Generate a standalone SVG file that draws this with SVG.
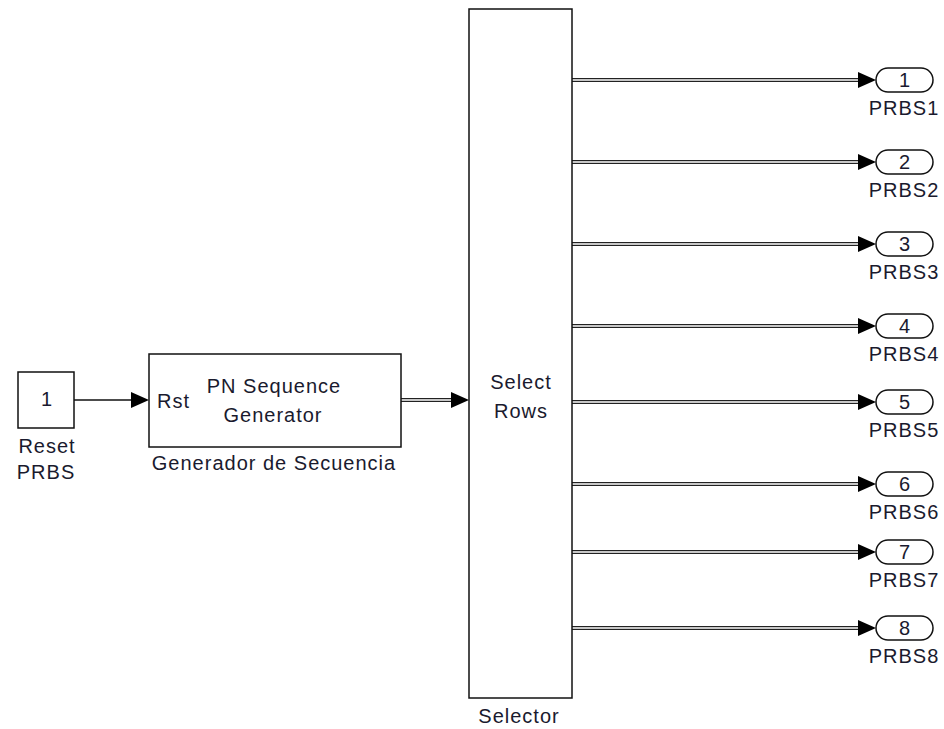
<svg xmlns="http://www.w3.org/2000/svg" width="944" height="729" viewBox="0 0 944 729">
  <style>
    .blk { fill: #fff; stroke: #111; stroke-width: 1.5; }
    .txt { font-family: "Liberation Sans", Arial, sans-serif; font-size: 20px; letter-spacing: 1px; fill: #1a1a2e; }
    .mid { text-anchor: middle; }
    .sig { fill: none; stroke: #111; stroke-width: 1.5; }
    .bus { fill: none; stroke: #222; stroke-width: 4.2; }
    .busin { fill: none; stroke: #fff; stroke-width: 1.4; }
    .head { fill: #000; }
  </style>
  <defs>
    <path id="arrow" class="head" d="M -18 -8 L 0 0 L -18 8 Z"/>
  </defs>
  <rect width="944" height="729" fill="#fff"/>

  <!-- connectors -->
  <g id="connectors">
    <line class="sig" x1="74" y1="400" x2="133" y2="400"/>
    <use href="#arrow" x="149" y="400"/>

    <line class="bus" x1="401" y1="400" x2="453" y2="400"/>
    <line class="busin" x1="401" y1="400" x2="453" y2="400"/>
    <use href="#arrow" x="469" y="400"/>

    <g id="outs">
      <line class="bus" x1="572" y1="80" x2="860" y2="80"/>
      <line class="busin" x1="572" y1="80" x2="860" y2="80"/>
      <use href="#arrow" x="876" y="80"/>
      <line class="bus" x1="572" y1="162" x2="860" y2="162"/>
      <line class="busin" x1="572" y1="162" x2="860" y2="162"/>
      <use href="#arrow" x="876" y="162"/>
      <line class="bus" x1="572" y1="244" x2="860" y2="244"/>
      <line class="busin" x1="572" y1="244" x2="860" y2="244"/>
      <use href="#arrow" x="876" y="244"/>
      <line class="bus" x1="572" y1="326" x2="860" y2="326"/>
      <line class="busin" x1="572" y1="326" x2="860" y2="326"/>
      <use href="#arrow" x="876" y="326"/>
      <line class="bus" x1="572" y1="402" x2="860" y2="402"/>
      <line class="busin" x1="572" y1="402" x2="860" y2="402"/>
      <use href="#arrow" x="876" y="402"/>
      <line class="bus" x1="572" y1="484" x2="860" y2="484"/>
      <line class="busin" x1="572" y1="484" x2="860" y2="484"/>
      <use href="#arrow" x="876" y="484"/>
      <line class="bus" x1="572" y1="552" x2="860" y2="552"/>
      <line class="busin" x1="572" y1="552" x2="860" y2="552"/>
      <use href="#arrow" x="876" y="552"/>
      <line class="bus" x1="572" y1="628" x2="860" y2="628"/>
      <line class="busin" x1="572" y1="628" x2="860" y2="628"/>
      <use href="#arrow" x="876" y="628"/>
    </g>
  </g>

  <!-- inport: Reset PRBS -->
  <g id="reset">
    <rect class="blk" x="18" y="372" width="56" height="56"/>
    <text class="txt mid" x="47" y="406">1</text>
    <text class="txt mid" x="47" y="453">Reset</text>
    <text class="txt mid" x="46" y="479">PRBS</text>
  </g>

  <!-- PN sequence generator -->
  <g id="pn">
    <rect class="blk" x="149" y="354" width="252" height="93"/>
    <text class="txt" x="157" y="408">Rst</text>
    <text class="txt mid" x="274" y="393">PN Sequence</text>
    <text class="txt mid" x="273" y="422">Generator</text>
    <text class="txt mid" x="274" y="470">Generador de Secuencia</text>
  </g>

  <!-- selector -->
  <g id="selector">
    <rect class="blk" x="469" y="9" width="103" height="689"/>
    <text class="txt mid" x="521" y="389">Select</text>
    <text class="txt mid" x="521" y="418">Rows</text>
    <text class="txt mid" x="519" y="723">Selector</text>
  </g>

  <!-- outports -->
  <g id="out1"><rect class="blk" x="876" y="68" width="57" height="24" rx="12"/><text class="txt mid" x="905" y="87">1</text><text class="txt mid" x="904" y="115">PRBS1</text></g>
  <g id="out2"><rect class="blk" x="876" y="150" width="57" height="24" rx="12"/><text class="txt mid" x="905" y="169">2</text><text class="txt mid" x="904" y="197">PRBS2</text></g>
  <g id="out3"><rect class="blk" x="876" y="232" width="57" height="24" rx="12"/><text class="txt mid" x="905" y="251">3</text><text class="txt mid" x="904" y="279">PRBS3</text></g>
  <g id="out4"><rect class="blk" x="876" y="314" width="57" height="24" rx="12"/><text class="txt mid" x="905" y="333">4</text><text class="txt mid" x="904" y="361">PRBS4</text></g>
  <g id="out5"><rect class="blk" x="876" y="390" width="57" height="24" rx="12"/><text class="txt mid" x="905" y="409">5</text><text class="txt mid" x="904" y="437">PRBS5</text></g>
  <g id="out6"><rect class="blk" x="876" y="472" width="57" height="24" rx="12"/><text class="txt mid" x="905" y="491">6</text><text class="txt mid" x="904" y="519">PRBS6</text></g>
  <g id="out7"><rect class="blk" x="876" y="540" width="57" height="24" rx="12"/><text class="txt mid" x="905" y="559">7</text><text class="txt mid" x="904" y="587">PRBS7</text></g>
  <g id="out8"><rect class="blk" x="876" y="616" width="57" height="24" rx="12"/><text class="txt mid" x="905" y="635">8</text><text class="txt mid" x="904" y="663">PRBS8</text></g>
</svg>
